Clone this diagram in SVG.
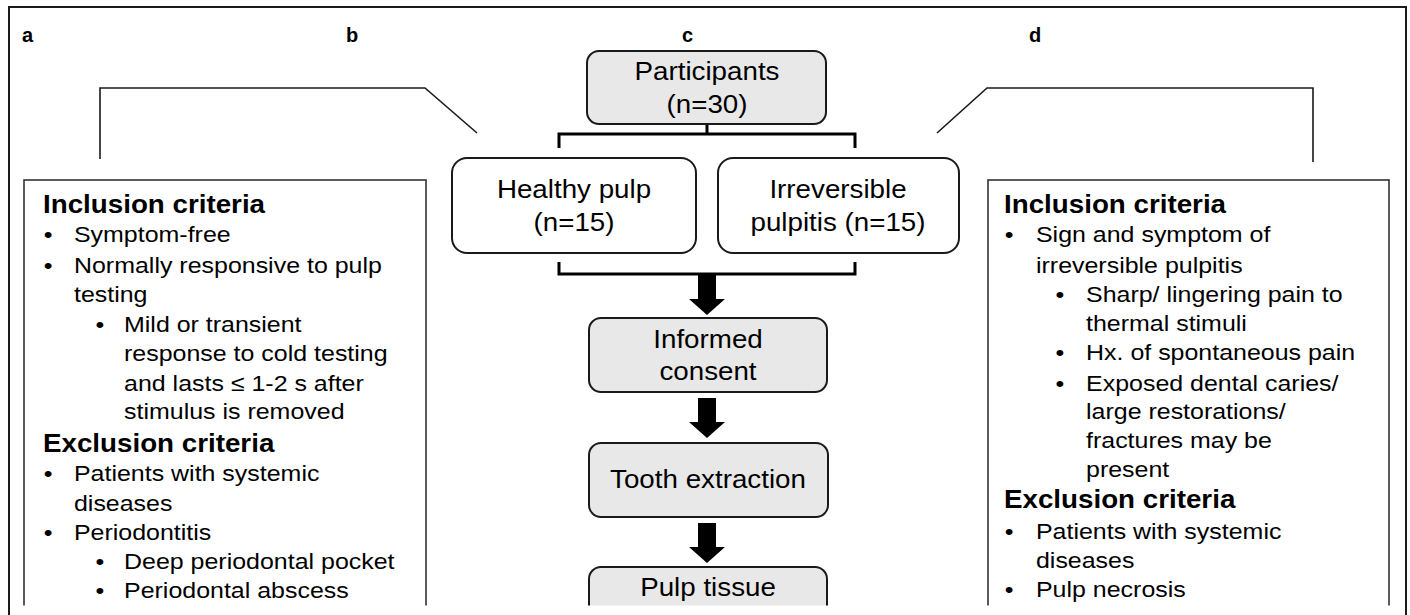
<svg xmlns="http://www.w3.org/2000/svg" xmlns:xlink="http://www.w3.org/1999/xlink" width="1410" height="615" viewBox="0 0 1410 615">
<style>
text{font-family:"Liberation Sans",Arial,Helvetica,sans-serif;fill:#000}
.lbl{font-size:20px;font-weight:bold}
.hd{font-size:25px;font-weight:bold}
.bd{font-size:22.5px}
.nd{font-size:25px;text-anchor:middle}
.gray{fill:#e8e8e8;stroke:#1a1a1a;stroke-width:2}
.white{fill:#fff;stroke:#1a1a1a;stroke-width:2}
.panel{fill:#fff;stroke:#333;stroke-width:1.6}
.thin{fill:none;stroke:#1a1a1a;stroke-width:1.6}
.brk{fill:none;stroke:#000;stroke-width:3}
.arr{fill:#000}
</style>
<defs>
<clipPath id="cut"><rect x="0" y="0" width="1410" height="605.5"/></clipPath>
<path id="arrow" class="arr" d="M-9,0 H9 V24 H18 L0,40 L-18,24 H-9 Z"/>
</defs>
<rect width="1410" height="615" fill="#fff"/>
<rect id="frame" x="9" y="7" width="1397" height="640" fill="none" stroke="#1a1a1a" stroke-width="2"/>
<g clip-path="url(#cut)">
<g id="labels">
<text class="lbl" x="22" y="42">a</text>
<text class="lbl" x="346" y="42">b</text>
<text class="lbl" x="682" y="42">c</text>
<text class="lbl" x="1029" y="42">d</text>
</g>
<g id="connectors">
<polyline class="thin" points="100,159 100,88 425,88 477,133"/>
<polyline class="thin" points="937,133 987,88 1313,88 1313,162"/>
<polyline class="brk" points="707,124 707,134"/>
<polyline class="brk" points="559,148 559,134 855,134 855,148"/>
<polyline class="brk" points="559,262 559,274 855,274 855,262"/>
<use xlink:href="#arrow" href="#arrow" transform="translate(707,275)"/>
<use xlink:href="#arrow" href="#arrow" transform="translate(707,398)"/>
<use xlink:href="#arrow" href="#arrow" transform="translate(707,523)"/>
</g>
<g id="panel-a">
<rect class="panel" x="24" y="180" width="402" height="460"/>
<g transform="translate(43 0) scale(1.11 1)">
<text class="hd" x="0" y="213">Inclusion criteria</text>
<text class="bd" x="0.7" y="242">•</text><text class="bd" x="27.9" y="242">Symptom-free</text>
<text class="bd" x="0.7" y="273">•</text><text class="bd" x="27.9" y="273">Normally responsive to pulp</text>
<text class="bd" x="27.9" y="302">testing</text>
<text class="bd" x="47.3" y="332">•</text><text class="bd" x="73" y="332">Mild or transient</text>
<text class="bd" x="73" y="361">response to cold testing</text>
<text class="bd" x="73" y="391">and lasts ≤ 1-2 s after</text>
<text class="bd" x="73" y="419">stimulus is removed</text>
<text class="hd" x="0" y="452">Exclusion criteria</text>
<text class="bd" x="0.7" y="481">•</text><text class="bd" x="27.9" y="481">Patients with systemic</text>
<text class="bd" x="27.9" y="511">diseases</text>
<text class="bd" x="0.7" y="540">•</text><text class="bd" x="27.9" y="540">Periodontitis</text>
<text class="bd" x="47.3" y="569">•</text><text class="bd" x="73" y="569">Deep periodontal pocket</text>
<text class="bd" x="47.3" y="598">•</text><text class="bd" x="73" y="598">Periodontal abscess</text>
</g>
</g>
<g id="panel-d">
<rect class="panel" x="988" y="180" width="401" height="460"/>
<g transform="translate(1004 0) scale(1.11 1)">
<text class="hd" x="0" y="213">Inclusion criteria</text>
<text class="bd" x="0.7" y="242">•</text><text class="bd" x="28.8" y="242">Sign and symptom of</text>
<text class="bd" x="28.8" y="273">irreversible pulpitis</text>
<text class="bd" x="46.4" y="302">•</text><text class="bd" x="73.9" y="302">Sharp/ lingering pain to</text>
<text class="bd" x="73.9" y="331">thermal stimuli</text>
<text class="bd" x="46.4" y="360">•</text><text class="bd" x="73.9" y="360">Hx. of spontaneous pain</text>
<text class="bd" x="46.4" y="391">•</text><text class="bd" x="73.9" y="391">Exposed dental caries/</text>
<text class="bd" x="73.9" y="419">large restorations/</text>
<text class="bd" x="73.9" y="448">fractures may be</text>
<text class="bd" x="73.9" y="477">present</text>
<text class="hd" x="0" y="508">Exclusion criteria</text>
<text class="bd" x="0.7" y="539">•</text><text class="bd" x="28.8" y="539">Patients with systemic</text>
<text class="bd" x="28.8" y="568">diseases</text>
<text class="bd" x="0.7" y="597">•</text><text class="bd" x="28.8" y="597">Pulp necrosis</text>
</g>
</g>
<g id="participants">
<rect class="gray" x="587" y="51" width="239" height="73" rx="12"/>
<text class="nd" transform="translate(707 80) scale(1.11 1)">Participants</text>
<text class="nd" transform="translate(707 113) scale(1.11 1)">(n=30)</text>
</g>
<g id="healthy">
<rect class="white" x="452" y="158" width="244" height="95" rx="15"/>
<text class="nd" transform="translate(574 198) scale(1.11 1)">Healthy pulp</text>
<text class="nd" transform="translate(574 231) scale(1.11 1)">(n=15)</text>
</g>
<g id="irreversible">
<rect class="white" x="718" y="158" width="241" height="95" rx="15"/>
<text class="nd" transform="translate(838 198) scale(1.11 1)">Irreversible</text>
<text class="nd" transform="translate(838 231) scale(1.11 1)">pulpitis (n=15)</text>
</g>
<g id="consent">
<rect class="gray" x="589" y="318" width="238" height="74" rx="12"/>
<text class="nd" transform="translate(708 348) scale(1.11 1)">Informed</text>
<text class="nd" transform="translate(708 380) scale(1.11 1)">consent</text>
</g>
<g id="extraction">
<rect class="gray" x="589" y="443" width="239" height="74" rx="12"/>
<text class="nd" transform="translate(708 488) scale(1.11 1)">Tooth extraction</text>
</g>
<g id="pulp-tissue">
<rect class="gray" x="589" y="567" width="238" height="74" rx="12"/>
<text class="nd" transform="translate(708 596) scale(1.11 1)">Pulp tissue</text>
</g>
</g>
</svg>
